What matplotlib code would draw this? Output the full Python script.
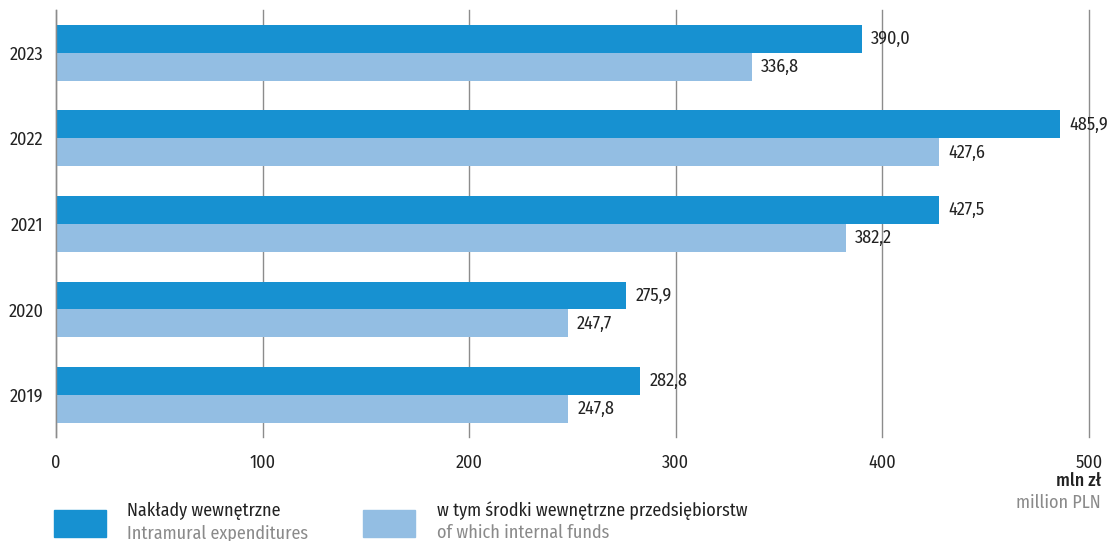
import matplotlib.pyplot as plt
from matplotlib import font_manager
from matplotlib.patches import Rectangle
import numpy as np

years = ["2019", "2020", "2021", "2022", "2023"]
intramural = [282.8, 275.9, 427.5, 485.9, 390.0]
internal_funds = [247.8, 247.7, 382.2, 427.6, 336.8]

DARK = "#1791d1"
LIGHT = "#93bee3"
GRID = "#8c8c8c"
TXT = "#222222"
GRAY_TXT = "#8a8a8a"

# condensed face, closest thing to the original's narrow font
available = {f.name for f in font_manager.fontManager.ttflist}
family = "DejaVu Sans"
for cand in ["Fira Sans Condensed", "Roboto Condensed", "PT Sans Narrow",
             "Sofia Sans Condensed", "Liberation Sans Narrow"]:
    if cand in available:
        family = cand
        break
plt.rcParams["font.family"] = [family, "DejaVu Sans"]
FS = 13

fig = plt.figure(figsize=(11.07, 5.41), dpi=100)
ax = fig.add_axes([56 / 1107, 1 - 437 / 541, (1089 - 56) / 1107, 427 / 541])

y = np.arange(len(years))
h = 0.327
ax.barh(y + h / 2, intramural, height=h, color=DARK, zorder=2)
ax.barh(y - h / 2, internal_funds, height=h, color=LIGHT, zorder=2)

for yi, v in zip(y, intramural):
    ax.text(v + 4.5, yi + h / 2, f"{v:.1f}".replace(".", ","), va="center",
            ha="left", fontsize=FS, color=TXT, zorder=3)
for yi, v in zip(y, internal_funds):
    ax.text(v + 4.5, yi - h / 2, f"{v:.1f}".replace(".", ","), va="center",
            ha="left", fontsize=FS, color=TXT, zorder=3)

ax.set_xlim(0, 500)
ax.set_ylim(-0.49, 4.50)
ax.set_xticks([0, 100, 200, 300, 400, 500])
ax.set_yticks(y)
ax.set_yticklabels(years)
ax.tick_params(axis="both", length=0, labelsize=FS, colors=TXT)
ax.tick_params(axis="x", pad=12.5)
ax.tick_params(axis="y", pad=9)
ax.xaxis.grid(True, color=GRID, linewidth=1.0, zorder=0)
ax.set_axisbelow(True)
# the 500 line sits on the axes edge; don't let it get clipped in half
for gl in ax.get_xgridlines():
    gl.set_clip_on(False)
for s in ["top", "right", "bottom"]:
    ax.spines[s].set_visible(False)
ax.spines["left"].set_color(GRID)
ax.spines["left"].set_linewidth(1.0)

# unit label
fig.text(1101 / 1107, 1 - 481 / 541, "mln zł", ha="right", va="center",
         fontsize=FS, color=TXT, fontweight="medium")
fig.text(1101 / 1107, 1 - 503 / 541, "million PLN", ha="right", va="center",
         fontsize=FS, color=GRAY_TXT)

# legend
fig.patches.append(Rectangle((54 / 1107, 1 - 537 / 541), 52 / 1107, 27 / 541,
                             transform=fig.transFigure, color=DARK))
fig.patches.append(Rectangle((363 / 1107, 1 - 537 / 541), 52 / 1107, 27 / 541,
                             transform=fig.transFigure, color=LIGHT))
fig.text(127 / 1107, 1 - 511 / 541, "Nakłady wewnętrzne", ha="left", va="center",
         fontsize=FS, color=TXT)
fig.text(127 / 1107, 1 - 533 / 541, "Intramural expenditures", ha="left",
         va="center", fontsize=FS, color=GRAY_TXT)
fig.text(437 / 1107, 1 - 511 / 541, "w tym środki wewnętrzne przedsiębiorstw",
         ha="left", va="center", fontsize=FS, color=TXT)
fig.text(437 / 1107, 1 - 533 / 541, "of which internal funds", ha="left",
         va="center", fontsize=FS, color=GRAY_TXT)

fig.savefig("out.png", dpi=100)
